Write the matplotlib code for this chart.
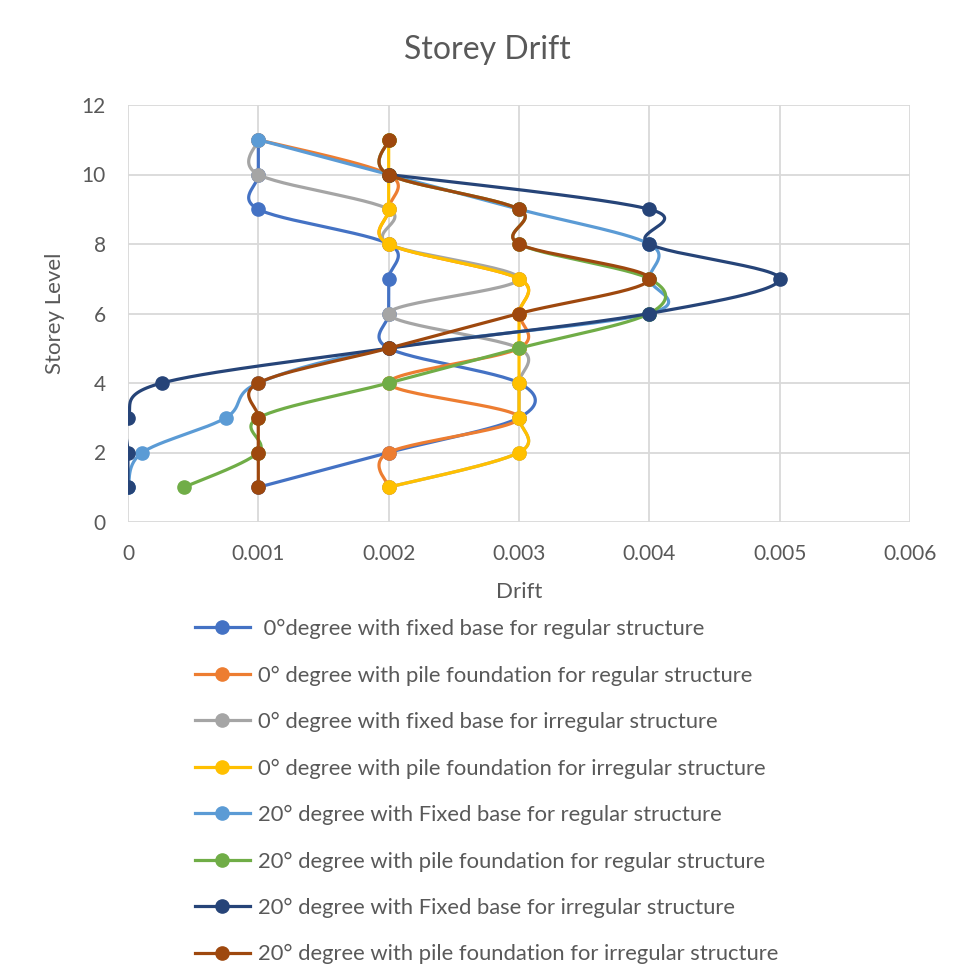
import numpy as np
import matplotlib
matplotlib.use('Agg')
import matplotlib.pyplot as plt
from matplotlib.lines import Line2D

plt.rcParams['font.family'] = ['Lato', 'DejaVu Sans']

# storey levels and drift values
storeys = [1, 2, 3, 4, 5, 6, 7, 8, 9, 10, 11]

drift_0_fixed_reg = [0.001, 0.002, 0.003, 0.003, 0.002, 0.002, 0.002, 0.002, 0.001, 0.001, 0.001]
drift_0_pile_reg = [0.002, 0.002, 0.003, 0.002, 0.003, 0.003, 0.003, 0.002, 0.002, 0.002, 0.001]
drift_0_fixed_irr = [0.002, 0.003, 0.003, 0.003, 0.003, 0.002, 0.003, 0.002, 0.002, 0.001, 0.001]
drift_0_pile_irr = [0.002, 0.003, 0.003, 0.003, 0.003, 0.003, 0.003, 0.002, 0.002, 0.002, 0.002]
drift_20_fixed_reg = [0.0, 0.00011, 0.00075, 0.001, 0.002, 0.004, 0.004, 0.004, 0.003, 0.002, 0.001]
drift_20_pile_reg = [0.00043, 0.001, 0.001, 0.002, 0.003, 0.004, 0.004, 0.003, 0.003, 0.002, 0.002]
drift_20_fixed_irr = [0.0, 0.0, 0.0, 0.00026, 0.002, 0.004, 0.005, 0.004, 0.004, 0.002]  # no storey 11
drift_20_pile_irr = [0.001, 0.001, 0.001, 0.001, 0.002, 0.003, 0.004, 0.003, 0.003, 0.002, 0.002]

labels = [' 0°degree with fixed base for regular structure',
          '0° degree with pile foundation for regular structure',
          '0° degree with fixed base for irregular structure',
          '0° degree with pile foundation for irregular structure',
          '20° degree with Fixed base for regular structure',
          '20° degree with pile foundation for regular structure',
          '20° degree with Fixed base for irregular structure',
          '20° degree with pile foundation for irregular structure']
colors = ['#4472C4', '#ED7D31', '#A5A5A5', '#FFC000', '#5B9BD5', '#70AD47', '#264478', '#9E480E']
series = [drift_0_fixed_reg, drift_0_pile_reg, drift_0_fixed_irr, drift_0_pile_irr,
          drift_20_fixed_reg, drift_20_pile_reg, drift_20_fixed_irr, drift_20_pile_irr]


def smooth(xs, ys, n=30):
    # excel-like smoothed line (catmull-rom bezier through the points)
    p = np.column_stack([xs, ys]).astype(float)
    p = np.vstack([p[0], p, p[-1]])
    out = []
    t = np.linspace(0, 1, n)[:, None]
    for i in range(1, len(p) - 2):
        p0, p1, p2, p3 = p[i - 1], p[i], p[i + 1], p[i + 2]
        c1 = p1 + (p2 - p0) / 6
        c2 = p2 - (p3 - p1) / 6
        seg = (1 - t)**3 * p1 + 3 * (1 - t)**2 * t * c1 + 3 * (1 - t) * t**2 * c2 + t**3 * p2
        out.append(seg)
    out = np.vstack(out)
    return out[:, 0], out[:, 1]


fig = plt.figure(figsize=(9.56, 9.77), dpi=100)
ax = fig.add_axes([128 / 956, 1 - 522 / 977, 782 / 956, 417 / 977])

handles = []
for vals, col, lab in zip(series, colors, labels):
    lev = storeys[:len(vals)]
    sx, sy = smooth(vals, lev)
    ax.plot(sx, sy, color=col, lw=2.3, solid_capstyle='round')
    ax.plot(vals, lev, 'o', color=col, ms=9.5)
    handles.append(Line2D([], [], color=col, lw=2.3, marker='o', ms=9.5))

ax.set_xlim(0, 0.006)
ax.set_ylim(0, 12)
ax.set_xticks([0, 0.001, 0.002, 0.003, 0.004, 0.005, 0.006])
ax.set_xticklabels(['0', '0.001', '0.002', '0.003', '0.004', '0.005', '0.006'])
ax.set_yticks(range(0, 13, 2))
ax.grid(True, color='#D9D9D9', lw=1.3)
ax.set_axisbelow(True)
for s in ax.spines.values():
    s.set_visible(False)
ax.tick_params(length=0, labelsize=15, labelcolor='#595959', pad=16)
ax.set_xlabel('Drift', fontsize=16, color='#595959', labelpad=13)
ax.set_ylabel('Storey Level', fontsize=16, color='#595959', labelpad=12)

fig.text(487 / 956, 1 - 50 / 977, 'Storey Drift', ha='center', va='center',
         fontsize=23, color='#595959')

fig.legend(handles, labels, loc='upper left', bbox_to_anchor=(195 / 956, 1 - 619 / 977),
           frameon=False, fontsize=15.8, labelcolor='#595959', handlelength=2.5,
           handletextpad=0.37, labelspacing=1.2, borderpad=0, borderaxespad=0)

fig.savefig('out.png', dpi=100)
